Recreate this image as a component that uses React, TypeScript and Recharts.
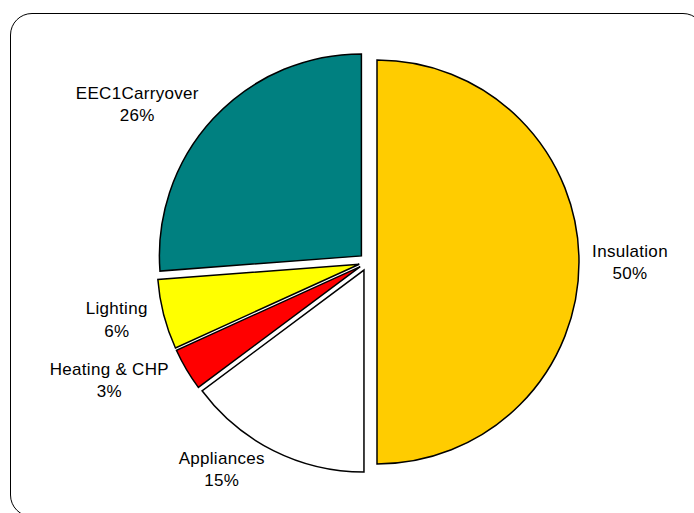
import { PieChart, Pie, Cell } from "recharts"

const categories = ["Insulation", "Appliances", "Heating & CHP", "Lighting", "EEC1Carryover"]
const shares = [50, 14.8, 3.4, 5.6, 26.2]
const colors = ["#FFCC00", "#FFFFFF", "#FF0000", "#FFFF00", "#008080"]

const data = categories.map((name, i) => ({ name, value: shares[i] }))
const total = shares.reduce((a, b) => a + b, 0)

// pie centre inside the chart's drawing area (chart has a 5px default margin)
const CX = 363
const CY = 257
const R = 202
const EXPLODE = 9
const RADIAN = Math.PI / 180
const FONT = "'Liberation Sans', Arial, sans-serif"

// mid angle of each slice, in recharts degrees (0 = 3 o'clock, ccw positive)
const midAngles = shares.map((v, i) => {
    const before = shares.slice(0, i).reduce((a, b) => a + b, 0)
    return 90 - (360 * (before + v / 2)) / total
})

const renderLabel = (k: number) => (props: any) => {
    if (props.index !== k) return null
    const { cx, cy, midAngle, outerRadius, name, percent } = props
    const cos = Math.cos(-midAngle * RADIAN)
    const sin = Math.sin(-midAngle * RADIAN)
    const gap = 5
    const px = cx + (outerRadius + gap) * cos
    const py = cy + (outerRadius + gap) * sin
    const w = name.length * 9.2
    const h = 32
    // labels sit a bit wider to the side, like the spreadsheet does it
    const x = px + (cos * w) / 2 + Math.sign(cos) * 0.35 * w * Math.abs(sin)
    const y = py + (sin * h) / 2
    return (
        <text
            x={x}
            y={y}
            textAnchor="middle"
            fontFamily={FONT}
            fontSize={17}
            letterSpacing={0.3}
            fill="#000"
        >
            <tspan x={x} y={y - 5.5}>{name}</tspan>
            <tspan x={x} y={y + 17}>{`${Math.round(percent * 100)}%`}</tspan>
        </text>
    )
}

const App = () => {
    return (
        <div
            style={{
                position: "absolute",
                left: 0,
                top: 0,
                width: 694,
                height: 513,
                overflow: "hidden",
                background: "#fff",
            }}
        >
            <div
                style={{
                    position: "absolute",
                    left: 10,
                    top: 13,
                    width: 693,
                    height: 502,
                    border: "1.3px solid #000",
                    borderRadius: 22,
                }}
            />
            <PieChart width={694} height={513} style={{ position: "absolute", left: 0, top: 0 }}>
                {data.map((_, k) => (
                    <Pie
                        key={k}
                        data={data}
                        dataKey="value"
                        nameKey="name"
                        cx={CX + EXPLODE * Math.cos(-midAngles[k] * RADIAN)}
                        cy={CY + EXPLODE * Math.sin(-midAngles[k] * RADIAN)}
                        outerRadius={R}
                        startAngle={90}
                        endAngle={-270}
                        label={renderLabel(k)}
                        labelLine={false}
                        isAnimationActive={false}
                    >
                        {data.map((_, i) => (
                            <Cell
                                key={i}
                                fill={i === k ? colors[i] : "none"}
                                stroke={i === k ? "#000" : "none"}
                                strokeWidth={1.5}
                            />
                        ))}
                    </Pie>
                ))}
            </PieChart>
        </div>
    )
}

export default App
